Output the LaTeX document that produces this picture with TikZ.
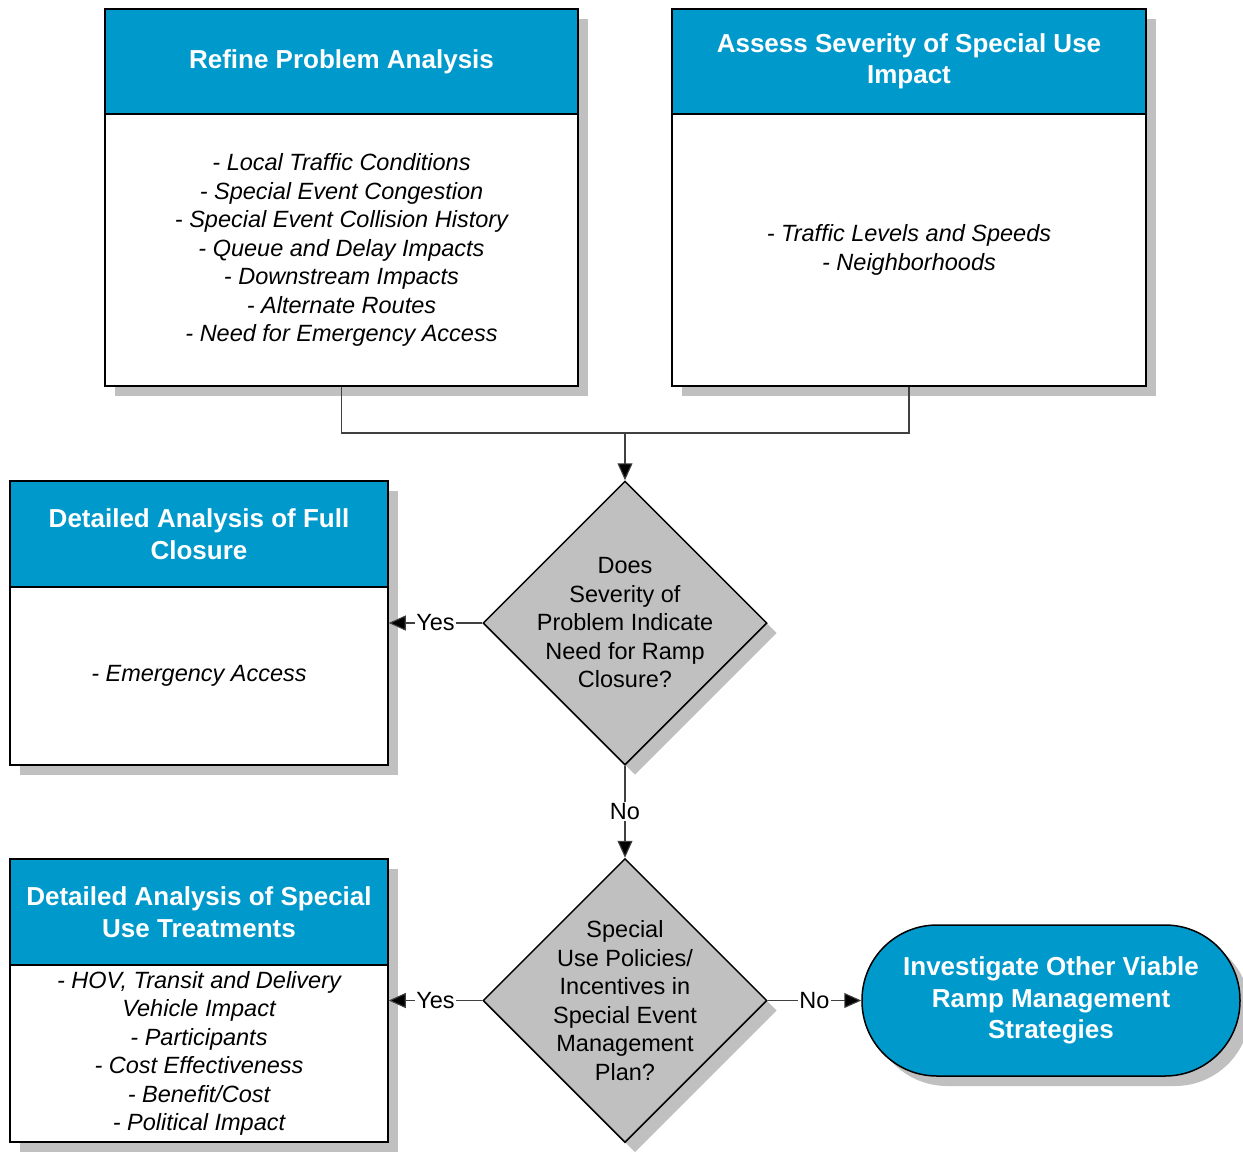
\documentclass[tikz,border=0pt]{standalone}
\usepackage{fontspec}
\setmainfont{Liberation Sans}
\usetikzlibrary{shapes.geometric,arrows.meta,shadows}
\definecolor{hdrblue}{HTML}{0099CC}
\definecolor{shade}{HTML}{C0C0C0}
\definecolor{linkgray}{HTML}{404040}

\tikzset{
  boxshadow/.style={drop shadow={shadow xshift=10pt,shadow yshift=-10pt,fill=shade,opacity=1}},
  hdr/.style={draw=black, line width=1.5pt, fill=hdrblue, text=white, boxshadow,
    font=\fontsize{26}{31.5}\selectfont\bfseries, align=center, inner sep=0pt},
  bodybox/.style={draw=black, line width=1.5pt, fill=white, boxshadow,
    font=\fontsize{23.5}{28.5}\selectfont\itshape, align=center, inner sep=0pt},
  decision/.style={diamond, draw=black, line width=1.5pt, fill=shade, boxshadow,
    minimum width=284pt, minimum height=284pt, aspect=1, inner sep=0pt},
  dtext/.style={font=\fontsize{23.5}{28.5}\selectfont, align=center, inner sep=0pt},
  terminal/.style={draw=black, line width=1.5pt, fill=hdrblue, text=white, boxshadow,
    rounded corners=75pt, minimum width=378pt, minimum height=151pt, inner sep=0pt,
    font=\fontsize{26}{31.5}\selectfont\bfseries, align=center},
  link/.style={draw=linkgray, line width=1.1pt},
  arrow/.style={link, -{Triangle[length=17pt,width=15pt,fill=black]}},
  lbl/.style={fill=white, inner sep=1.5pt, font=\fontsize{23.5}{28.5}\selectfont}
}

\begin{document}
\begin{tikzpicture}[x=1pt,y=-1pt]
\useasboundingbox (0,0) rectangle (1243,1152);

% Top-left box: problem analysis
\node[hdr, minimum width=473pt, minimum height=105pt] (h1) at (341.5,61.5) {Refine Problem Analysis};
\node[bodybox, minimum width=473pt, minimum height=272pt] (b1) at (341.5,250) {%
- Local Traffic Conditions\\
- Special Event Congestion\\
- Special Event Collision History\\
- Queue and Delay Impacts\\
- Downstream Impacts\\
- Alternate Routes\\
- Need for Emergency Access};

% Top-right box: severity
\node[hdr, minimum width=474pt, minimum height=105pt] (h2) at (909,61.5) {Assess Severity of Special Use\\Impact};
\node[bodybox, minimum width=474pt, minimum height=272pt] (b2) at (909,250) {%
- Traffic Levels and Speeds\\
- Neighborhoods};

% First decision
\node[decision] (d1) at (625,623) {};
\node[dtext] (d1t) at (d1.center) {Does\\Severity of\\Problem Indicate\\Need for Ramp\\Closure?};

% Full closure box
\node[hdr, minimum width=378pt, minimum height=106pt] (h3) at (199,534) {Detailed Analysis of Full\\Closure};
\node[bodybox, minimum width=378pt, minimum height=178pt] (b3) at (199,676) {- Emergency Access};

% Second decision
\node[decision] (d2) at (625,1000.5) {};
\node[dtext] (d2t) at (d2.center) {Special\\Use Policies/\\Incentives in\\Special Event\\Management\\Plan?};

% Special use treatments box
\node[hdr, minimum width=378pt, minimum height=106pt] (h4) at (199,912) {Detailed Analysis of Special\\Use Treatments};
\node[bodybox, minimum width=378pt, minimum height=177pt] (b4) at (199,1053.5) {%
- HOV, Transit and Delivery\\
Vehicle Impact\\
- Participants\\
- Cost Effectiveness\\
- Benefit/Cost\\
- Political Impact};

% Terminal
\node[terminal] (t1) at (1051,1000.5) {Investigate Other Viable\\Ramp Management\\Strategies};

% Connectors
\coordinate (j) at (625,433);
\draw[link] (b1.south) |- (j) -| (b2.south);
\draw[arrow] (j) -- (d1.north);
\draw[arrow] (d1.west) -- node[lbl] {Yes} (d1.west -| b3.east);
\draw[arrow] (d1.south) -- node[lbl] {No} (d2.north);
\draw[arrow] (d2.west) -- node[lbl] {Yes} (d2.west -| b4.east);
\draw[arrow] (d2.east) -- node[lbl] {No} (t1.west);
\end{tikzpicture}
\end{document}
